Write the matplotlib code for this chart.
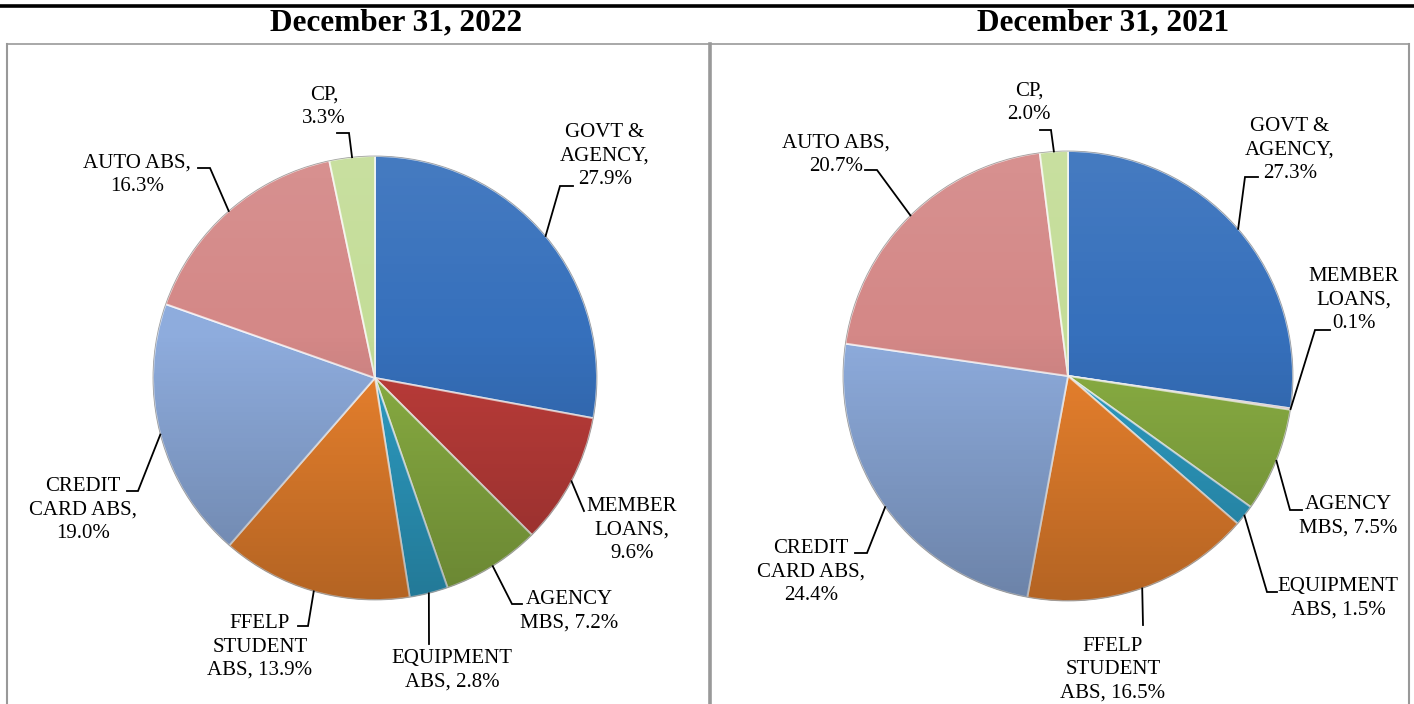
import numpy as np
import matplotlib.pyplot as plt
from matplotlib.patches import Circle

plt.rcParams['font.family'] = ['Liberation Serif', 'DejaVu Serif']

# data
categories = ['GOVT & AGENCY', 'MEMBER LOANS', 'AGENCY MBS', 'EQUIPMENT ABS',
              'FFELP STUDENT ABS', 'CREDIT CARD ABS', 'AUTO ABS', 'CP']
label_fmt = ['GOVT &\nAGENCY,\n{}', 'MEMBER\nLOANS,\n{}', 'AGENCY\nMBS, {}',
             'EQUIPMENT\nABS, {}', 'FFELP\nSTUDENT\nABS, {}',
             'CREDIT\nCARD ABS,\n{}', 'AUTO ABS,\n{}', 'CP,\n{}']
values_2022 = [27.9, 9.6, 7.2, 2.8, 13.9, 19.0, 16.3, 3.3]
values_2021 = [27.3, 0.1, 7.5, 1.5, 16.5, 24.4, 20.7, 2.0]
titles = ['December 31, 2022', 'December 31, 2021']

colors = ['#3670BC', '#BE3D3A', '#8BB043', '#2E9FC6',
          '#EC832E', '#8EACDD', '#D48887', '#C4DD98']

# layout (pixels)
panels = [
    dict(center=(375, 378), r=222, title_x=396,
         text=[(605, 156), (632, 530), (569, 611), (452, 670),
               (260, 647), (83, 510), (137, 175), (324, 107)],
         lead=[[(560, 186), (573, 186)], [(584, 511)], [(512, 604), (522, 604)],
               [(429, 644)], [(308, 626), (298, 626)], [(138, 491), (127, 491)],
               [(210, 168), (198, 168)], [(349, 133), (337, 133)]]),
    dict(center=(1068, 376), r=225, title_x=1103,
         text=[(1290, 150), (1354, 300), (1348, 516), (1338, 598),
               (1113, 670), (811, 572), (836, 155), (1029, 103)],
         lead=[[(1245, 177), (1258, 177)], [(1315, 330), (1330, 330)],
               [(1290, 510), (1302, 510)], [(1267, 592), (1277, 592)],
               [(1143, 625)], [(867, 553), (855, 553)],
               [(877, 170), (865, 170)], [(1051, 130), (1040, 130)]]),
]

W, H = 1414, 704
fig = plt.figure(figsize=(W / 100, H / 100), dpi=100)
ax = fig.add_axes([0, 0, 1, 1])

# shading overlay: slightly light top, darker bottom
t = np.linspace(0, 1, 256)
grad = np.zeros((256, 1, 4))
grad[:, 0, :3] = (t < 0.4)[:, None] * 1.0
grad[:, 0, 3] = np.where(t < 0.4, 0.08 * (0.4 - t) / 0.4, 0.24 * (t - 0.4) / 0.6)

for vals, p, title in zip([values_2022, values_2021], panels, titles):
    cx, cy = p['center']
    r = p['r']
    wedges, _ = ax.pie(vals, colors=colors, startangle=-90, counterclock=True,
                       center=(cx, cy), radius=r,
                       wedgeprops=dict(edgecolor=(1, 1, 1, 0.7), linewidth=1.4))
    circ = Circle((cx, cy), r, transform=ax.transData)
    im = ax.imshow(grad, extent=(cx - r, cx + r, cy + r, cy - r),
                   interpolation='bilinear', zorder=3)
    im.set_clip_path(circ)
    ax.add_patch(Circle((cx, cy), r, facecolor='none', edgecolor='#6a6a6a',
                        linewidth=0.6, alpha=0.6, zorder=4))

    for w, v, fmt, (tx, ty), pts in zip(wedges, vals, label_fmt, p['text'], p['lead']):
        ang = np.deg2rad((w.theta1 + w.theta2) / 2)
        ex, ey = cx + r * np.cos(ang), cy + r * np.sin(ang)
        xs = [ex] + [q[0] for q in pts]
        ys = [ey] + [q[1] for q in pts]
        ax.plot(xs, ys, color='black', linewidth=1.3, zorder=5,
                solid_joinstyle='miter')
        ax.text(tx, ty, fmt.format(f'{v:.1f}%'), ha='center', va='center',
                multialignment='center', fontsize=15, linespacing=1.3,
                color='black', zorder=6)

    ax.text(p['title_x'], 23, title, ha='center', va='center',
            fontsize=22.5, fontweight='bold', color='black')

# frame lines
ax.plot([0, W], [5.5, 5.5], color='black', linewidth=2.6, solid_capstyle='butt')
ax.plot([7, 1409], [43.5, 43.5], color='#999999', linewidth=1.2)
ax.plot([7, 7], [43.5, H], color='#999999', linewidth=1.5)
ax.plot([709.5, 709.5], [43.5, H], color='#999999', linewidth=2.6)
ax.plot([1409, 1409], [43.5, H], color='#999999', linewidth=1.5)

ax.set_xlim(0, W)
ax.set_ylim(H, 0)
ax.set_aspect('auto')
ax.axis('off')

fig.savefig('out.png', dpi=100)
